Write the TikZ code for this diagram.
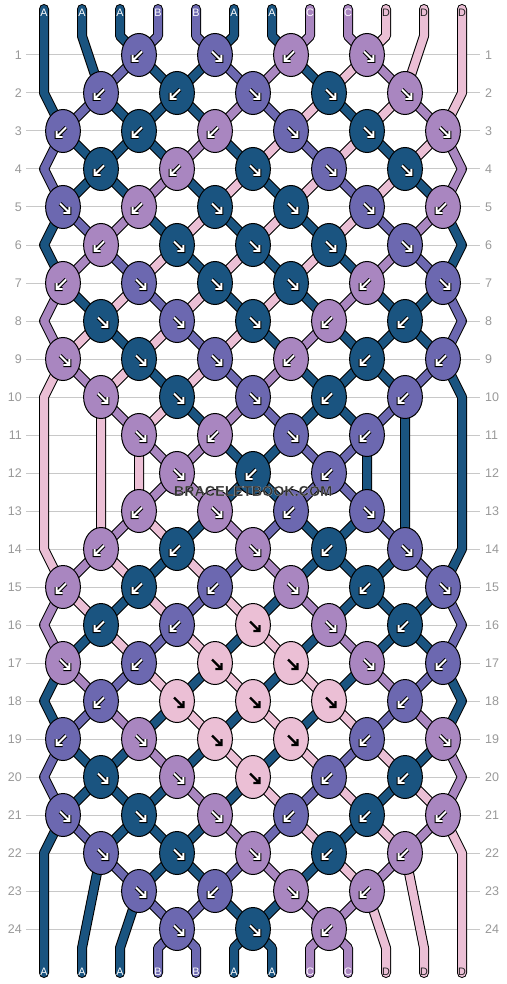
\documentclass[tikz,border=0pt]{standalone}
\usepackage{fontspec}
\setmainfont{Liberation Sans}
\setsansfont{Liberation Sans}
\definecolor{cA}{HTML}{1A5480}
\definecolor{cB}{HTML}{6C68B0}
\definecolor{cC}{HTML}{A986C0}
\definecolor{cD}{HTML}{EBBFD5}
\definecolor{gridgray}{HTML}{C8C8C8}
\definecolor{numgray}{HTML}{999999}
\definecolor{wmgray}{HTML}{333333}
\definecolor{txtA}{HTML}{FFFFFF}
\definecolor{txtB}{HTML}{FFFFFF}
\definecolor{txtC}{HTML}{FFFFFF}
\definecolor{txtD}{HTML}{222222}
\tikzset{
  gridline/.style={gridgray, line width=1pt},
  rownum/.style={text=numgray, font=\fontsize{12.5}{14}\selectfont, inner sep=0pt},
  strlabel/.style={font=\fontsize{10.8}{12}\selectfont, inner sep=0pt},
  knotshape/.style={draw=black, line width=1pt},
  arrowout/.style={black, line width=4pt, line cap=square, line join=miter},
  arrowin/.style={white, line width=1.9pt, line cap=square, line join=miter},
  arrowpink/.style={black, line width=2.2pt, line cap=butt, line join=miter},
  wmtext/.style={font=\bfseries\fontsize{14.3}{16}\selectfont, inner sep=0pt}
}
\newcommand\setg[2]{\expandafter\xdef\csname #1\endcsname{#2}}
\newcommand\getg[1]{\csname #1\endcsname}
\def\pinkname{cD}
\newcommand\knotdraw[4]{%
  \filldraw[knotshape, fill=#3] (#1,#2) ellipse [x radius=17.4, y radius=21.5];
  \def\tmpcol{#3}%
  \if#4L\def\tmpflip{-1}\else\def\tmpflip{1}\fi
  \begin{scope}[shift={(#1,#2)}]
    \begin{scope}[xscale=\tmpflip]
    \ifx\tmpcol\pinkname
      \draw[arrowpink] (-3,-3.5) -- (5.8,5.3) (6.4,0) -- (6.4,6) -- (0.4,6);
    \else
      \draw[arrowout] (-3,-3.5) -- (5.8,5.3) (6.4,0) -- (6.4,6) -- (0.4,6);
      \draw[arrowin] (-3,-3.5) -- (5.8,5.3) (6.4,0) -- (6.4,6) -- (0.4,6);
    \fi
    \end{scope}
  \end{scope}
}
\newcommand\haloText[1]{\special{pdf:code q 2 Tr 0.05 w 0.9 0.9 0.9 RG 1 j}#1\special{pdf:code Q}}
\begin{document}
\begin{tikzpicture}[x=1pt,y=-1pt]
\fill[white] (0,0) rectangle (506,984);
\useasboundingbox (0,0) rectangle (506,984);
% grid lines and row numbers
\foreach \rr in {1,...,24} {
  \pgfmathtruncatemacro\yy{17+38*\rr}
  \draw[gridline] (26,\yy) -- (480,\yy);
  \node[rownum, anchor=east] (ln\rr) at (22,\yy) {\rr};
  \node[rownum, anchor=west] (rn\rr) at (485,\yy) {\rr};
}
% initial state
\foreach \L [count=\pp] in {A,A,A,B,B,A,A,C,C,D,D,D} {
  \pgfmathtruncatemacro\xx{44+38*(\pp-1)}
  \setg{sid\pp}{\pp}
  \setg{col\pp}{c\L}
  \setg{path\pp}{(\xx,9) -- (\xx,36)}
}
\gdef\knotlist{}
% rows of knots
\foreach \kl [count=\rr] in {%
{3/L,5/R,7/L,9/R},%
{2/L,4/L,6/R,8/R,10/R},%
{1/L,3/L,5/L,7/R,9/R,11/R},%
{2/L,4/L,6/R,8/R,10/R},%
{1/R,3/L,5/R,7/R,9/R,11/L},%
{2/L,4/R,6/R,8/R,10/R},%
{1/L,3/R,5/R,7/R,9/L,11/R},%
{2/R,4/R,6/R,8/L,10/L},%
{1/R,3/R,5/R,7/L,9/L,11/L},%
{2/R,4/R,6/R,8/L,10/L},%
{3/R,5/L,7/R,9/L},%
{4/R,6/L,8/L},%
{3/L,5/R,7/L,9/R},%
{2/L,4/L,6/R,8/L,10/R},%
{1/L,3/L,5/L,7/R,9/L,11/R},%
{2/L,4/L,6/R,8/R,10/L},%
{1/R,3/L,5/R,7/R,9/R,11/L},%
{2/L,4/R,6/R,8/R,10/L},%
{1/L,3/R,5/R,7/R,9/L,11/R},%
{2/R,4/R,6/R,8/L,10/L},%
{1/R,3/R,5/R,7/L,9/L,11/L},%
{2/R,4/R,6/R,8/L,10/L},%
{3/R,5/L,7/R,9/L},%
{4/R,6/R,8/L}%
} {
  \pgfmathtruncatemacro\yy{17+38*\rr}
  \foreach \pp in {1,...,12} {\setg{kn\pp}{0}}
  \foreach \ki/\dd in \kl {
    \pgfmathtruncatemacro\kj{\ki+1}
    \pgfmathtruncatemacro\kx{25+38*\ki}
    \edef\sa{\getg{sid\ki}}
    \edef\sb{\getg{sid\kj}}
    \setg{kn\ki}{1}\setg{kn\kj}{1}
    \setg{path\sa}{\getg{path\sa} -- (\kx,\yy)}
    \setg{path\sb}{\getg{path\sb} -- (\kx,\yy)}
    \if\dd R\edef\kc{\getg{col\sa}}\else\edef\kc{\getg{col\sb}}\fi
    \xdef\knotlist{\unexpanded\expandafter{\knotlist}\noexpand\knotdraw{\kx}{\yy}{\kc}{\dd}}
    \setg{sid\ki}{\sb}\setg{sid\kj}{\sa}
  }
  \ifnum\rr>1 \ifnum\rr<23
    \ifnum\getg{kn1}=0 \edef\sa{\getg{sid1}}\setg{path\sa}{\getg{path\sa} -- (44,\yy)}\fi
    \ifnum\getg{kn12}=0 \edef\sa{\getg{sid12}}\setg{path\sa}{\getg{path\sa} -- (462,\yy)}\fi
  \fi\fi
}
% bottom ends
\foreach \pp in {1,...,12} {
  \pgfmathtruncatemacro\xx{44+38*(\pp-1)}
  \edef\sa{\getg{sid\pp}}
  \setg{path\sa}{\getg{path\sa} -- (\xx,948) -- (\xx,973)}
}
% strands
\foreach \sn in {1,...,12} {
  \edef\tmp{\noexpand\draw[line width=10pt, black, line cap=round, line join=round] \getg{path\sn};}
  \tmp
  \edef\tmp{\noexpand\draw[line width=8pt, \getg{col\sn}, line cap=round, line join=round] \getg{path\sn};}
  \tmp
}
% labels
\foreach \L [count=\pp] in {A,A,A,B,B,A,A,C,C,D,D,D} {
  \pgfmathtruncatemacro\xx{44+38*(\pp-1)}
  \node[strlabel, text=txt\L] (top\pp) at (\xx,12.5) {\L};
  \node[strlabel, text=txt\L] (bot\pp) at (\xx,972) {\L};
}
% knots
\knotlist
% watermark
\node[wmtext, text=wmgray] (wm) at (253,491) {\haloText{BRACELETBOOK.COM}};
\end{tikzpicture}
\end{document}
